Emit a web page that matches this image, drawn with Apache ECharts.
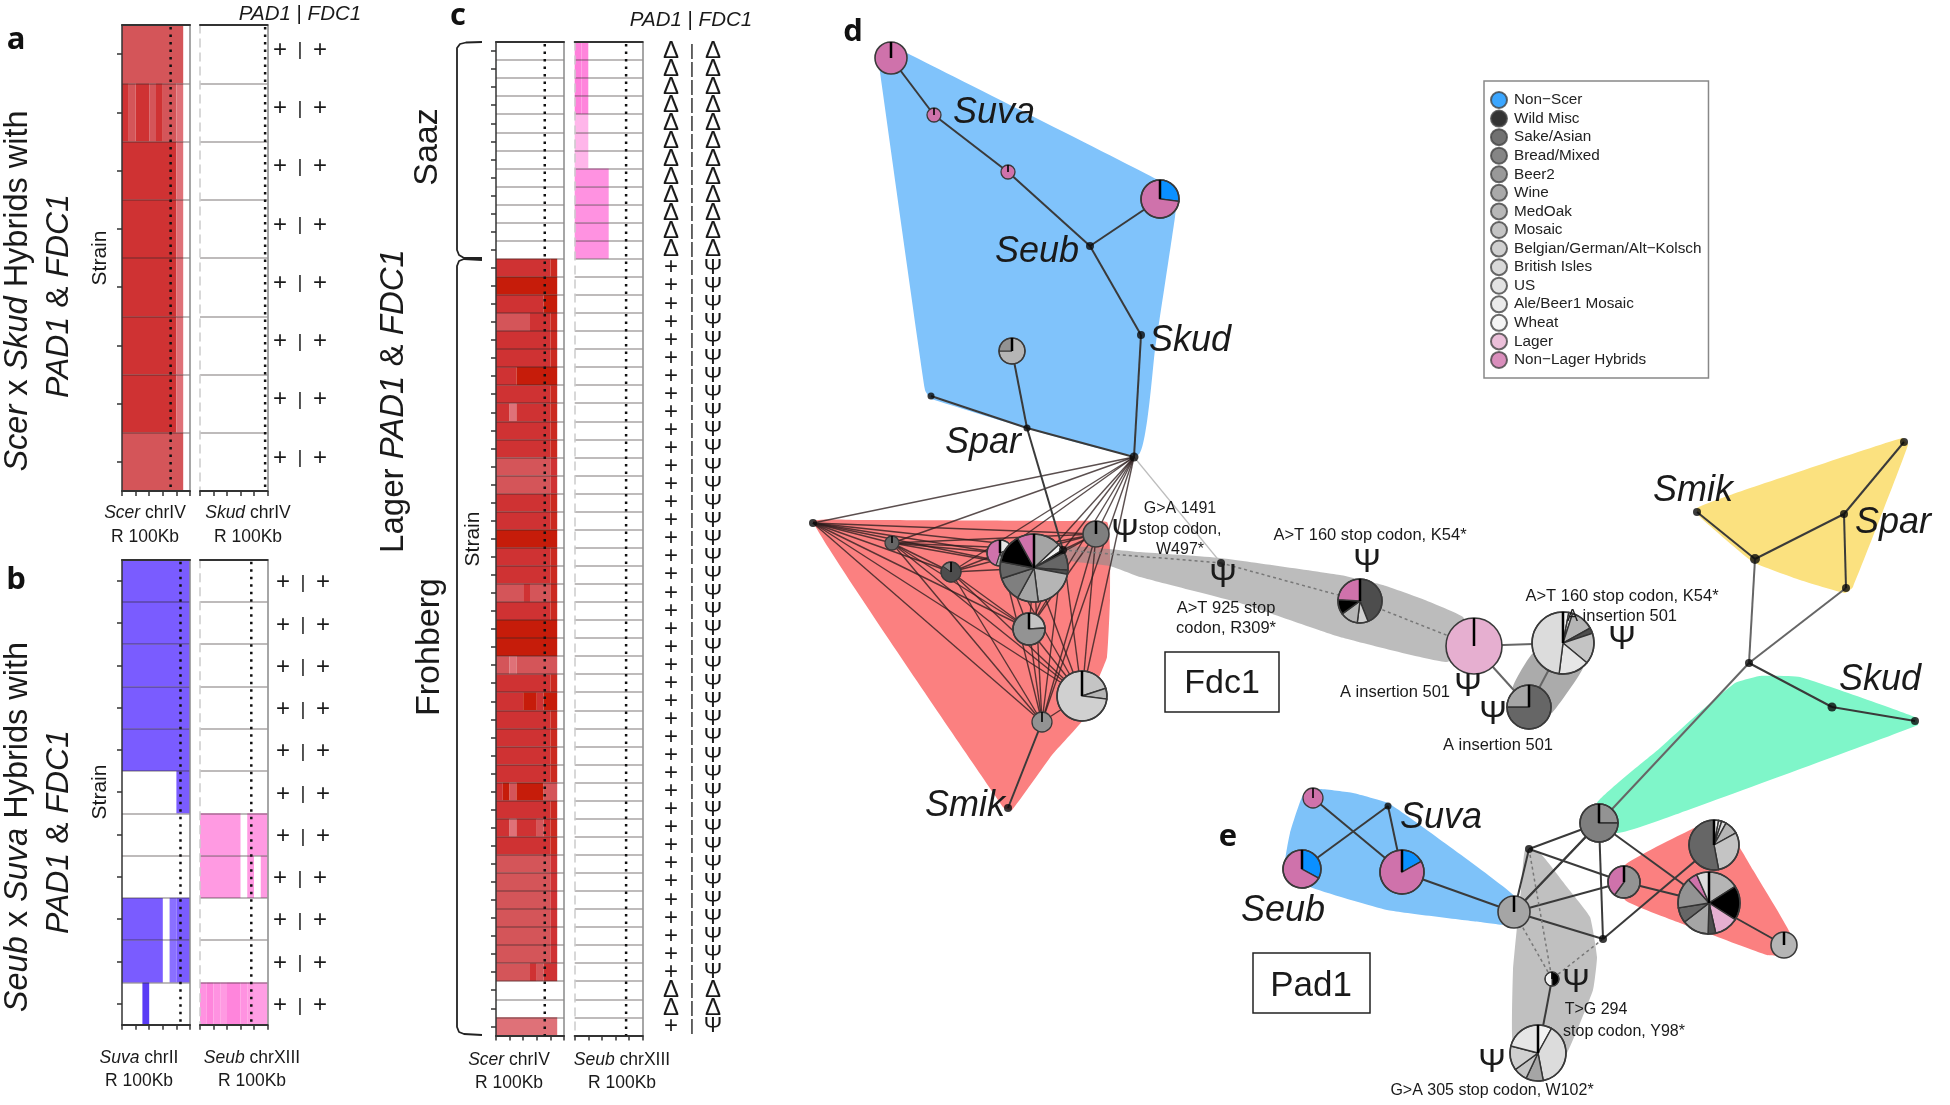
<!DOCTYPE html>
<html>
<head>
<meta charset="utf-8">
<style>html,body{margin:0;padding:0;background:#fff}#c{width:1950px;height:1105px}</style>
<script src="https://cdn.jsdelivr.net/npm/echarts@6/dist/echarts.min.js"></script>
</head>
<body>
<div id="c"></div>
<script>
// ---------- Heat-map rows (one letter per 10 Kb bin; "." = no coverage) ----------
const heatColors = {
  D:'#c61c0a', R:'#cb2a20', M:'#cf3233', L:'#d45559', P:'#df7178',
  V:'#7a5cff', W:'#8a70ff', X:'#5a3cf5',
  a:'#ff9ae2', b:'#ff85dc', c:'#ffb6ea', d:'#ff92e1', e:'#ff9ee4', f:'#ff7fdb'
};
const rowsA1 = ['LLLLLLLLL','MLMMLMLLP','MMMMMMMMP','MMMMMMMMP','MMMMMMMMP','MMMMMMMMP','MMMMMMMMP','LLLLLLLLL'];
const rowsA2 = ['..........','..........','..........','..........','..........','..........','..........','..........'];
const rowsB1 = ['VVVVVVVVVV','VVVVVVVVVV','VVVVVVVVVV','VVVVVVVVVV','VVVVVVVVVV','........VV','..........','..........','VVVVVV.WVV','VVVVVV.WVV','...X......'];
const rowsB2 = ['..........','..........','..........','..........','..........','..........','aaaaaa.aaa','aaaaaa.a.a','..........','..........','dbdabbdaee'];
const rowsC1 = [
  '............','............','............','............','............','............',
  '............','............','............','............','............','............',
  'MMMMMMMMR','DDDDDDDDD','MMMMMMMDD','LLLLLMMMR','MMMMMMMMR','MMMMMMMMR','MMMDDDDDD','MMMMMMMMR',
  'MMPMMMMMR','MMMMMMMMR','MMMMMMMMR','LLLLLLLLM','LLLLLLLLM','MMMMMMMMR','MMMMMMMMR','DDDDDDDDD',
  'MMMMMMMMR','MMMMMMMMR','LLLLMLLLR','MMMMMMMMR','DDDDDDDDD','DDDDDDDDD','LLPLLLLLL','MMMMMMMMR',
  'MMMMDDMDD','MMMMMMMMR','MMMMMMMMR','MMMMMMMMR','MMMMMMMMR','MDLDDDDLL','MMMMMMMMR','MMPMMMLMR',
  'MMMMMMMMR','LLLLLLLLM','LLLLLLLLM','LLLLLLLLM','LLLLLLLLM','LLLLLLLLM','LLLLLLLLM','LLLLLMLMM',
  '.........','.........','PPPPPPPPP'];
const rowsC2 = ['fb........','fb........','fb........','fb........','cc........','cc........','cc........',
  'ddddd.....','ddddd.....','ddddd.....','ddddd.....','ddddd.....'];

// ---------- Presence calls per strain ----------
const callsA = {pad:'++++++++', fdc:'++++++++'};
const callsB = {pad:'+++++++++++', fdc:'+++++++++++'};
const callsC = {
  pad:'Δ'.repeat(12)+'+'.repeat(40)+'ΔΔ+',
  fdc:'Δ'.repeat(12)+'Ψ'.repeat(40)+'ΔΔΨ'
};

// ---------- Population categories ----------
const categories = ['Non\u2212Scer','Wild Misc','Sake/Asian','Bread/Mixed','Beer2','Wine','MedOak','Mosaic','Belgian/German/Alt\u2212Kolsch','British Isles','US','Ale/Beer1 Mosaic','Wheat','Lager','Non\u2212Lager Hybrids'];
const categoryColors = ['#0a90ff','#000000','#4d4d4d','#666666','#7f7f7f','#939393','#a5a5a5','#b5b5b5','#c4c4c4','#d0d0d0','#dcdcdc','#e6e6e6','#f2f2f2','#e6afd0','#cf72ab'];

// ---------- Haplotype network, panel d and e (node layout) ----------
const hullBlueD = [[880,72],[878,50],[891,42],[907,53],[1158,180],[1176,200],[1175,217],[1155,350],[1138,455],[931,399],[925,390]];
const hullRedD = [[813,522],[860,520],[1060,521],[1107,522],[1110,550],[1110,600],[1107,657],[1098,680],[1083,720],[1052,755],[1012,810],[1004,808]];
const hullGreyD1 = [[1066,546],[1140,552],[1220,558],[1340,575],[1383,585],[1425,600],[1463,617],[1470,640],[1447,662],[1340,637],[1240,603],[1140,577],[1110,566],[1066,560]];
const hullGreyD2 = [[1533,653],[1513,687],[1530,720],[1552,713],[1583,668],[1570,650]];
const hullYellow = [[1697,508],[1733,494],[1902,438],[1908,445],[1853,587],[1845,593],[1800,580],[1753,562],[1700,517]];
const hullGreen = [[1735,683],[1760,676],[1800,677],[1915,717],[1918,725],[1680,813],[1617,833],[1597,803],[1660,748],[1700,712]];
const hullBlueE = [[1303,795],[1320,789],[1353,793],[1388,803],[1420,825],[1517,898],[1513,925],[1480,922],[1387,910],[1310,887],[1285,867],[1290,833]];
const hullGreyE = [[1525,850],[1540,853],[1567,887],[1590,917],[1597,957],[1593,990],[1567,1053],[1540,1082],[1513,1047],[1513,970],[1517,927],[1521,890]];
const hullRedE = [[1625,865],[1690,830],[1714,820],[1738,845],[1753,870],[1790,933],[1787,955],[1767,955],[1707,933],[1680,923],[1625,900]];

const netNodes = {
  su1:[891,58], su2:[934,115], su3:[1008,172], ri:[1160,199], sb:[1090,246], sk:[1141,335], gp:[1012,351],
  np:[931,396], sp:[1027,428], hub:[1134,457],
  L:[813,523], s:[892,543], p:[1000,553], k:[951,572], B:[1034,568], T:[1096,534], m:[1029,629], W:[1082,696], b:[1042,722], X:[1063,550], sm:[1008,808],
  G:[1221,563], q:[1360,601], lg:[1474,646], wh:[1563,643], dk:[1529,707],
  ys:[1697,512], y2:[1755,559], y3:[1844,514], y4:[1846,588], y5:[1904,442], mid:[1749,663], g1:[1832,707], g2:[1915,721],
  e1:[1313,798], e2:[1388,806], e3:[1302,869], e4:[1402,872], e5:[1514,912], e6:[1599,823], e7:[1529,849], e8:[1624,882], e9:[1603,939], e10:[1552,979], e11:[1538,1053],
  r1:[1714,845], r2:[1709,903], r3:[1784,945]
};
const edgesSolid = [
  ['su1','su2'],['su2','su3'],['su3','sb'],['sb','ri'],['sb','sk'],['sk','hub'],['hub','sp'],['sp','np'],['sp','gp'],['sp','X'],
  ['sm','b'],
  ['ys','y2'],['y2','y3'],['y3','y5'],['y3','y4'],['mid','g1'],['g1','g2'],
  ['e1','e4'],['e2','e3'],['e2','e4'],['e4','e5'],['e5','e7'],['e5','e6'],['e5','e8'],['e5','e9'],['e7','e6'],['e7','e8'],['e6','e9'],['e6','r2'],['e9','r1'],['e8','r2'],['r2','r3'],['e10','e11']
];
const edgesFan = [
  ['hub','L'],['hub','s'],['hub','p'],['hub','k'],['hub','B'],['hub','T'],['hub','m'],['hub','W'],['hub','b'],['hub','X'],
  ['L','s'],['L','p'],['L','k'],['L','B'],['L','T'],['L','m'],['L','W'],['L','b'],['L','X'],
  ['s','p'],['s','k'],['s','B'],['s','T'],['s','m'],['s','W'],['s','b'],['s','X'],
  ['k','p'],['k','B'],['k','T'],['k','m'],['k','W'],['k','b'],
  ['p','T'],['p','m'],['p','W'],['p','b'],
  ['T','m'],['T','W'],['T','b'],['T','B'],
  ['B','m'],['B','W'],['B','b'],['m','W'],['m','b'],['W','b'],['X','b'],['X','W'],['X','m'],['X','T']
];
const edgesGrey = [['y2','mid'],['y4','mid'],['mid','e6'],['lg','wh'],['lg','dk'],['dk','wh'],['e5','e6']];
const edgesFaint = [['hub','G']];
const edgesDashed = [['X','G'],['G','q'],['q','lg'],['e7','e10'],['e5','e10'],['e9','e10']];

// name, radius, then slices clockwise from 12 o'clock: [category index, share]
const pies = [
  ['su1',16,[[14,1]]],['su2',7,[[14,1]]],['su3',7,[[14,1]]],['ri',19,[[0,.27],[14,.73]]],['gp',13,[[7,.75],[5,.25]]],
  ['s',7,[[3,1]]],['p',13,[[11,.18],[3,.27],[6,.1],[14,.45]]],['k',10,[[2,.85],[4,.15]]],['T',13,[[4,1]]],['m',16,[[8,.24],[5,.76]]],
  ['B',34,[[6,.13],[12,.03],[1,.015],[3,.085],[2,.02],[7,.2],[6,.1],[4,.12],[3,.08],[1,.14],[14,.08]]],
  ['W',25,[[8,.2],[7,.07],[9,.73]]],['b',10,[[5,1]]],
  ['q',22,[[2,.44],[9,.08],[7,.13],[1,.11],[14,.24]]],['lg',28,[[13,1]]],
  ['wh',31,[[12,.03],[10,.02],[7,.12],[2,.03],[8,.16],[11,.16],[10,.48]]],['dk',22,[[3,.75],[6,.25]]],
  ['e1',10,[[14,1]]],['e3',19,[[0,.33],[14,.67]]],['e4',22,[[0,.17],[14,.83]]],['e5',16,[[6,1]]],['e6',19,[[5,.25],[4,.75]]],
  ['e8',16,[[5,.6],[14,.4]]],['e10',7,[[1,.5],[12,.5]]],['e11',28,[[12,.08],[10,.39],[6,.1],[8,.08],[9,.14],[11,.21]]],
  ['r1',25,[[12,.03],[11,.02],[10,.03],[7,.09],[8,.3],[3,.53]]],
  ['r2',31,[[7,.16],[1,.18],[13,.125],[2,.04],[6,.14],[3,.08],[5,.16],[14,.05],[10,.065]]],['r3',13,[[7,1]]]
];
const dots = [['sb',4],['sk',4],['np',3.5],['sp',3.5],['hub',4.5],['L',4],['X',4],['sm',4],['G',4],
  ['ys',4],['y2',5],['y3',4],['y4',4],['y5',4],['mid',4],['g1',4.5],['g2',4],['e2',3.5],['e7',4],['e9',4]];

// ---------- Free text ----------
const F = '"Liberation Sans", Arial, sans-serif';
const richI = size => ({i:{fontStyle:'italic',fontSize:size,fontFamily:F,fill:'#1a1a1a'}, n:{fontSize:size,fontFamily:F,fill:'#1a1a1a'}});
const notes = [
  // text, x, y, size, rotated
  ['{i|Scer} x {i|Skud} Hybrids with',18,291,32.5,1],['{i|PAD1} & {i|FDC1}',59,296,32,1],
  ['{i|Seub} x {i|Suva} Hybrids with',18,827,32.5,1],['{i|PAD1} & {i|FDC1}',59,832,32,1],
  ['Lager {i|PAD1} & {i|FDC1}',394,401,33,1],['Saaz',428,147,34,1],['Frohberg',430,647,34,1],
  ['Strain',100,258,21,1],['Strain',100,792,21,1],['Strain',473,539,21,1],
  ['{i|PAD1} | {i|FDC1}',300,14,20.5,0],['{i|PAD1} | {i|FDC1}',691,20,20.5,0],
  ['{i|Scer} chrIV',145,513,17.5,0],['R 100Kb',145,537,17.5,0],['{i|Skud} chrIV',248,513,17.5,0],['R 100Kb',248,537,17.5,0],
  ['{i|Suva} chrII',139,1058,17.5,0],['R 100Kb',139,1081,17.5,0],['{i|Seub} chrXIII',252,1058,17.5,0],['R 100Kb',252,1081,17.5,0],
  ['{i|Scer} chrIV',509,1060,17.5,0],['R 100Kb',509,1083,17.5,0],['{i|Seub} chrXIII',622,1060,17.5,0],['R 100Kb',622,1083,17.5,0],
  ['{i|Suva}',994,113,36,0],['{i|Seub}',1037,252,36,0],['{i|Skud}',1190,341,36,0],['{i|Spar}',983,443,36,0],['{i|Smik}',965,806,36,0],
  ['{i|Smik}',1693,491,36,0],['{i|Spar}',1893,523,36,0],['{i|Skud}',1880,680,36,0],['{i|Suva}',1441,818,36,0],['{i|Seub}',1283,911,36,0],
  ['G>A 1491',1180,509,16,0],['stop codon,',1180,530,16,0],['W497*',1180,550,16,0],
  ['A>T 160 stop codon, K54*',1370,535,16.5,0],['A>T 925 stop',1226,608,16.5,0],['codon, R309*',1226,628,16.5,0],
  ['A insertion 501',1395,692,16.5,0],['A insertion 501',1498,745,16.5,0],['A>T 160 stop codon, K54*',1622,596,16.5,0],['A insertion 501',1622,616,16.5,0],
  ['T>G 294',1596,1010,16,0],['stop codon, Y98*',1624,1032,16,0],['G>A 305 stop codon, W102*',1492,1091,16,0],
  ['Ψ',1125,533,33,0],['Ψ',1223,578,33,0],['Ψ',1367,563,33,0],['Ψ',1468,687,33,0],['Ψ',1493,715,33,0],['Ψ',1622,640,33,0],['Ψ',1576,983,33,0],['Ψ',1492,1063,33,0],
  ['Fdc1',1222,684,34,0],['Pad1',1311,986,35,0]
];
const panelLetters = [['a',16,40],['b',16,580],['c',458,16],['d',853,32],['e',1228,837]];
const labelBoxes = [[1165,652,114,60],[1253,953,117,60]];
const bracketSaaz = [[482,42],[466,42.5],[460,44],[457,48],[457,250],[459,255],[464,258],[482,258]];
const bracketFroh = [[482,260],[464,259],[459,261],[457,266],[457,1027],[459,1032],[464,1034],[482,1035]];

// ---------- Panels ----------
const panelDefs = [
  {rows:rowsA1,left:122,top:25,w:68,h:466,dot:7.15,first:true},
  {rows:rowsA2,left:200,top:25,w:67.5,h:466,dot:9.65},
  {rows:rowsB1,left:122,top:559.7,w:68,h:465,dot:8.6,first:true},
  {rows:rowsB2,left:200,top:559.7,w:67.5,h:465,dot:7.6},
  {rows:rowsC1,left:496,top:42,w:68,h:993.4,dot:7.17,first:true},
  {rows:rowsC2,left:574.7,top:42,w:68,h:993.4,dot:7.56,rowCount:55}
];

const grid=[], xAxis=[], yAxis=[], series=[];
// main full-page grid holding the networks
grid.push({left:0,top:0,width:1950,height:1105,show:false});
xAxis.push({type:'value',gridIndex:0,min:0,max:1950,show:false});
yAxis.push({type:'value',gridIndex:0,min:0,max:1105,inverse:true,show:false});

function addAxes(n,first){
  const dark='#333', grey='#888';
  const gi=grid.length-1;
  const cats=Array.from({length:n},(_,i)=>String(i));
  const xi=xAxis.length, yi=yAxis.length;
  xAxis.push({type:'value',gridIndex:gi,min:0,max:10,interval:2,position:'bottom',z:5,
    axisLine:{show:true,onZero:false,lineStyle:{color:dark,width:2}},
    axisTick:{show:true,length:5,lineStyle:{color:dark,width:1.5}},axisLabel:{show:false},splitLine:{show:false}});
  xAxis.push({type:'value',gridIndex:gi,min:0,max:10,position:'top',z:5,
    axisLine:{show:true,onZero:false,lineStyle:{color:dark,width:2}},axisTick:{show:false},axisLabel:{show:false},splitLine:{show:false}});
  yAxis.push({type:'category',gridIndex:gi,data:cats,inverse:true,position:'left',z:5,
    axisLine:{show:true,onZero:false,lineStyle:first?{color:dark,width:1.5}:{color:'#ccc',width:1.5,type:[8,6]}},
    axisTick:{show:!!first,alignWithLabel:true,length:5,lineStyle:{color:dark,width:1.5}},
    axisLabel:{show:false},
    splitLine:{show:true,lineStyle:{color:'rgba(50,40,40,0.42)',width:1.5}}});
  yAxis.push({type:'category',gridIndex:gi,data:cats,inverse:true,position:'right',z:5,
    axisLine:{show:true,onZero:false,lineStyle:{color:grey,width:1.5}},axisTick:{show:false},axisLabel:{show:false},splitLine:{show:false}});
  return {xi,yi};
}
function runs(rows){
  const out=[];
  rows.forEach((row,r)=>{
    let s=0;
    for(let i=1;i<=row.length;i++){
      if(i===row.length||row[i]!==row[s]){
        if(row[s]!=='.') out.push([s,i,r,row[s]]);
        s=i;
      }
    }
  });
  return out;
}
panelDefs.forEach(p=>{
  const n=p.rowCount||p.rows.length;
  grid.push({left:p.left,top:p.top,width:p.w,height:p.h,show:false});
  const {xi,yi}=addAxes(n,p.first);
  const cells=runs(p.rows);
  series.push({type:'custom',xAxisIndex:xi,yAxisIndex:yi,z:1,silent:true,animation:false,clip:false,
    data:cells,encode:{x:[0,1],y:2},
    renderItem(params,api){
      const c=cells[params.dataIndex];
      const a=api.coord([c[0],c[2]]), b=api.coord([c[1],c[2]]);
      const h=api.size([0,1])[1];
      return {type:'rect',shape:{x:a[0],y:a[1]-h/2,width:b[0]-a[0],height:h},style:{fill:heatColors[c[3]]}};
    }});
  series.push({type:'custom',xAxisIndex:xi,yAxisIndex:yi,z:6,silent:true,animation:false,
    data:[[p.dot]],encode:{x:0},
    renderItem(params,api){
      const cs=params.coordSys, x=api.coord([api.value(0),0])[0];
      return {type:'line',shape:{x1:x,y1:cs.y+2,x2:x,y2:cs.y+cs.height},style:{stroke:'#111',lineWidth:2.5,lineDash:[2.5,5]}};
    }});
});
// presence calls: text glyphs on their own row scale
function addCalls(calls,left,top,h,pitch,size,shiftFn,barSize){
  const n=calls.pad.length;
  grid.push({left:left,top:top,width:pitch*2,height:h,show:false});
  const gi=grid.length-1;
  const xi=xAxis.length, yi=yAxis.length;
  xAxis.push({type:'value',gridIndex:gi,min:0,max:2,show:false});
  yAxis.push({type:'category',gridIndex:gi,inverse:true,show:false,data:Array.from({length:n},(_,i)=>String(i))});
  const d=[];
  for(let r=0;r<n;r++){
    const sh=shiftFn?shiftFn(r):0;
    d.push([0+sh,r,calls.pad[r]]);
    d.push([1+sh,r,'|']);
    d.push([2+sh,r,calls.fdc[r]]);
  }
  series.push({type:'custom',xAxisIndex:xi,yAxisIndex:yi,z:6,silent:true,animation:false,clip:false,
    data:d.map(v=>[v[0],v[1]]),encode:{x:0,y:1},
    renderItem(params,api){
      const v=d[params.dataIndex];
      const c=api.coord([v[0],v[1]]);
      const fs=v[2]==='|'?barSize:(v[2]==='Ψ'?size-2:size);
      return {type:'text',style:{x:c[0],y:c[1],text:v[2],align:'center',verticalAlign:'middle',fill:'#1a1a1a',
        font:fs+'px '+F}};
    }});
}
addCalls(callsA,280,21,466,20,24,null,19);
addCalls(callsB,280,561.5,465,20,24,r=>r<7?0.15:0,19);
addCalls(callsC,671,42,993.4,21,24,null,17);

// main-grid helpers
function hullSeries(pts,fill){
  series.push({type:'custom',xAxisIndex:0,yAxisIndex:0,z:1,silent:true,animation:false,
    data:pts,encode:{x:0,y:1},
    renderItem(params,api){
      if(params.dataIndex!==0) return null;
      return {type:'polygon',shape:{points:pts.map(q=>api.coord(q)),smooth:0.12},style:{fill:fill}};
    }});
}
hullSeries(hullBlueD,'#80c3fb');
hullSeries(hullRedD,'#fb8080');
hullSeries(hullGreyD1,'rgba(140,140,140,0.58)');
hullSeries(hullGreyD2,'#ababab');
hullSeries(hullYellow,'#fbe17f');
hullSeries(hullGreen,'#7ff6c9');
hullSeries(hullBlueE,'#7ec2f9');
hullSeries(hullGreyE,'#c0c0c0');
hullSeries(hullRedE,'#fb8080');

function edgeSeries(list,color,width,dash,z){
  const data=list.map(e=>[...netNodes[e[0]],...netNodes[e[1]]]);
  series.push({type:'custom',xAxisIndex:0,yAxisIndex:0,z:z||2,silent:true,animation:false,
    data,encode:{x:[0,2],y:[1,3]},
    renderItem(params,api){
      const a=api.coord([api.value(0),api.value(1)]), b=api.coord([api.value(2),api.value(3)]);
      return {type:'line',shape:{x1:a[0],y1:a[1],x2:b[0],y2:b[1]},style:{stroke:color,lineWidth:width,lineDash:dash||null}};
    }});
}
edgeSeries(edgesFaint,'#bdbdbd',1.2);
edgeSeries(edgesGrey,'#666',2);
edgeSeries(edgesFan,'rgba(45,30,30,0.78)',1.4);
edgeSeries(edgesSolid,'#3a3a3a',2);
edgeSeries(edgesDashed,'#777',1.5,[3,3]);

const pieData=pies.map(p=>[...netNodes[p[0]],p[1]]);
series.push({type:'custom',xAxisIndex:0,yAxisIndex:0,z:3,silent:true,animation:false,
  data:pieData,encode:{x:0,y:1},
  renderItem(params,api){
    const P=pies[params.dataIndex];
    const c=api.coord([api.value(0),api.value(1)]), r=P[1];
    const ch=[];
    let a=-Math.PI/2;
    const multi=P[2].length>1;
    P[2].forEach(s=>{
      const e=a+s[1]*2*Math.PI;
      ch.push({type:'sector',shape:{cx:c[0],cy:c[1],r:r,r0:0,startAngle:a,endAngle:e,clockwise:true},
        style:{fill:categoryColors[s[0]],stroke:multi?'#333':null,lineWidth:multi?(r>15?1.4:1):0}});
      a=e;
    });
    ch.push({type:'circle',shape:{cx:c[0],cy:c[1],r:r},style:{fill:null,stroke:'#3a3a3a',lineWidth:r>10?1.6:1.3}});
    ch.push({type:'line',shape:{x1:c[0],y1:c[1],x2:c[0],y2:c[1]-r},style:{stroke:'#000',lineWidth:r>10?2.5:1.6}});
    return {type:'group',children:ch};
  }});
series.push({type:'scatter',xAxisIndex:0,yAxisIndex:0,z:4,silent:true,animation:false,
  data:dots.map(d=>[...netNodes[d[0]],d[1]]),
  symbolSize:v=>v[2]*2,itemStyle:{color:'#0a0a0a'}});
series.push({type:'line',xAxisIndex:0,yAxisIndex:0,z:4,silent:true,animation:false,showSymbol:false,data:bracketSaaz,lineStyle:{color:'#222',width:1.8}});
series.push({type:'line',xAxisIndex:0,yAxisIndex:0,z:4,silent:true,animation:false,showSymbol:false,data:bracketFroh,lineStyle:{color:'#222',width:1.8}});
// legend carriers
categories.forEach((name,i)=>{
  series.push({type:'scatter',name,xAxisIndex:0,yAxisIndex:0,data:[],itemStyle:{color:categoryColors[i],borderColor:'#444',borderWidth:1}});
});

const graphicEls=[];
notes.forEach(n=>{
  const [text,x,y,size,rot]=n;
  graphicEls.push({type:'text',x,y,rotation:rot?Math.PI/2:0,z:100,silent:true,
    style:{text,align:'center',verticalAlign:'middle',fontFamily:F,fontSize:size,fill:'#1a1a1a',rich:richI(size)}});
});
panelLetters.forEach(n=>{
  graphicEls.push({type:'text',x:n[1],y:n[2],z:100,silent:true,
    style:{text:n[0],align:'center',verticalAlign:'middle',fontFamily:'"Open Sans", sans-serif',fontWeight:'bold',fontSize:31,fill:'#111'}});
});
labelBoxes.forEach(b=>{
  graphicEls.push({type:'rect',z:99,silent:true,shape:{x:b[0],y:b[1],width:b[2],height:b[3]},style:{fill:'#fff',stroke:'#222',lineWidth:1.5}});
});

const chart=echarts.init(document.getElementById('c'),null,{width:1950,height:1105});
chart.setOption({
  animation:false,backgroundColor:'#fff',
  textStyle:{fontFamily:F},
  grid,xAxis,yAxis,series,
  legend:{show:true,data:categories,orient:'vertical',left:1484,top:81,
    padding:[10,7,9,6],itemGap:0.57,itemWidth:16,itemHeight:16,icon:'circle',selectedMode:false,
    borderColor:'#888',borderWidth:1.5,backgroundColor:'#fff',
    textStyle:{fontFamily:F,fontSize:15.3,lineHeight:18,color:'#222',padding:[0,0,0,2]}},
  graphic:{elements:graphicEls}
});
</script>
</body>
</html>
